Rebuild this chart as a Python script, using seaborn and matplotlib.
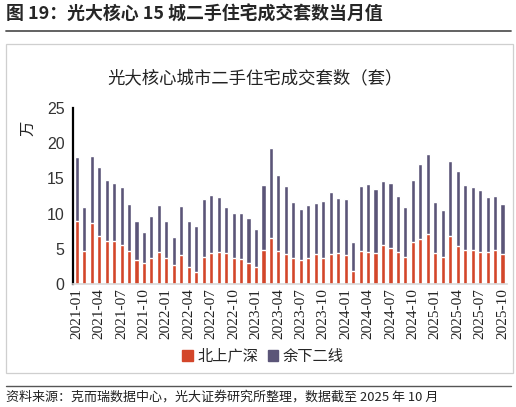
import numpy as np
import pandas as pd
import matplotlib
matplotlib.use("Agg")
import matplotlib.pyplot as plt
import seaborn as sns
from matplotlib.patches import Rectangle, Patch

# --- dữ liệu: số căn giao dịch (vạn căn), 2021-01 .. 2025-10 ---
months = [f"{y}-{m:02d}" for y in range(2021, 2026) for m in range(1, 13)][:58]

tier1 = [8.9, 4.75, 8.6, 6.8, 6.1, 6.1, 5.6, 4.75, 3.4, 3.05, 3.7, 4.6,
         3.7, 2.7, 4.05, 2.35, 1.7, 3.9, 4.4, 4.5, 4.4, 3.7, 3.6, 3.05,
         2.35, 4.9, 6.6, 4.75, 4.25, 3.7, 3.4, 3.7, 4.25, 3.7, 4.25, 4.4,
         4.05, 1.8, 4.75, 4.5, 4.4, 5.6, 5.1, 4.5, 3.9, 5.95, 6.45, 7.1,
         4.4, 3.9, 6.8, 5.4, 4.9, 4.9, 4.55, 4.55, 4.85, 4.25]

total = [18.0, 10.9, 18.2, 16.6, 14.8, 14.4, 13.75, 11.4, 9.0, 7.45, 9.7, 11.25,
         9.0, 6.65, 11.05, 9.0, 8.3, 12.1, 12.7, 12.4, 10.9, 10.15, 10.15, 9.35,
         7.8, 14.1, 19.35, 15.45, 13.95, 11.7, 10.7, 11.2, 11.5, 11.85, 13.1, 12.25,
         12.05, 5.9, 13.95, 14.2, 13.55, 14.6, 14.4, 12.5, 11.0, 14.8, 17.0, 18.5,
         11.7, 10.55, 17.5, 16.0, 14.1, 13.75, 13.3, 12.4, 12.5, 11.4]

RED = "#D3462A"
PURPLE = "#5B5578"

df = pd.DataFrame({"month": months, "tier1": tier1, "total": total})

sns.set_theme(style="white")
plt.rcParams["font.family"] = ["Noto Sans CJK SC", "DejaVu Sans"]

fig = plt.figure(figsize=(5.16, 4.07), dpi=100)
ax = fig.add_axes([73 / 516, 1 - 284 / 407, 434 / 516, 176 / 407])

# cột tổng (phần trên = 余下二线), rồi phủ phần 北上广深 lên
sns.barplot(data=df, x="month", y="total", color=PURPLE, width=0.55,
            saturation=1, ax=ax)
sns.barplot(data=df, x="month", y="tier1", color=RED, width=0.55,
            saturation=1, ax=ax)

ax.set_ylim(0, 25)
ax.set_xlim(-0.4, 57.6)
ax.set_yticks(range(0, 26, 5))
ax.set_yticklabels([str(v) for v in range(0, 26, 5)], fontsize=11.5, color="#333333",
                   fontfamily=["Liberation Sans", "DejaVu Sans"])
ax.set_xticks(range(0, 58, 3))
ax.set_xticklabels(months[::3], rotation=90, fontsize=11, color="#222222",
                   fontfamily=["Liberation Serif", "DejaVu Serif"])
ax.set_xticks(np.arange(-0.5, 58, 1), minor=True)
ax.tick_params(axis="x", which="major", length=0, pad=3)
ax.tick_params(axis="x", which="minor", direction="in", length=3,
               color="#d0d0d0", width=1)
ax.tick_params(axis="y", direction="in", length=4, width=1.3, color="black", pad=6)
ax.set_xlabel("")
ax.set_ylabel("")

for s in ["top", "right"]:
    ax.spines[s].set_visible(False)
ax.spines["left"].set_color("black")
ax.spines["left"].set_linewidth(1.6)
ax.spines["bottom"].set_color("#d9d9d9")
ax.spines["bottom"].set_linewidth(1.2)

# chữ, khung, chú thích
fig.text(6 / 516, 1 - 15 / 407, "图 19：光大核心 15 城二手住宅成交套数当月值",
         fontsize=12.9, fontweight="bold", va="center", ha="left")
fig.add_artist(plt.Line2D([6 / 516, 511 / 516], [1 - 31 / 407] * 2,
                          color="#555555", lw=1.3))
fig.add_artist(Rectangle((6 / 516, 1 - 373 / 407), 507 / 516, 329 / 407,
                         fill=False, edgecolor="#cfcfcf", lw=0.9))
fig.text(255 / 516, 1 - 78 / 407, "光大核心城市二手住宅成交套数（套）",
         fontsize=12.5, va="center", ha="center", color="#222222")
fig.text(28 / 516, 1 - 128 / 407, "万", fontsize=11, rotation=90,
         va="center", ha="center", color="#222222")

handles = [Patch(color=RED, label="北上广深"), Patch(color=PURPLE, label="余下二线")]
fig.legend(handles=handles, loc="center", bbox_to_anchor=(263 / 516, 1 - 356 / 407),
           ncol=2, frameon=False, fontsize=11, handlelength=0.7, handleheight=0.7,
           handletextpad=0.3, columnspacing=0.6, borderaxespad=0)

fig.add_artist(plt.Line2D([6 / 516, 511 / 516], [1 - 386 / 407] * 2,
                          color="#555555", lw=1.0))
fig.text(6 / 516, 1 - 397 / 407,
         "资料来源：克而瑞数据中心，光大证券研究所整理，数据截至 2025 年 10 月",
         fontsize=9.4, va="center", ha="left", color="#222222")

fig.savefig("out.png", dpi=100)
